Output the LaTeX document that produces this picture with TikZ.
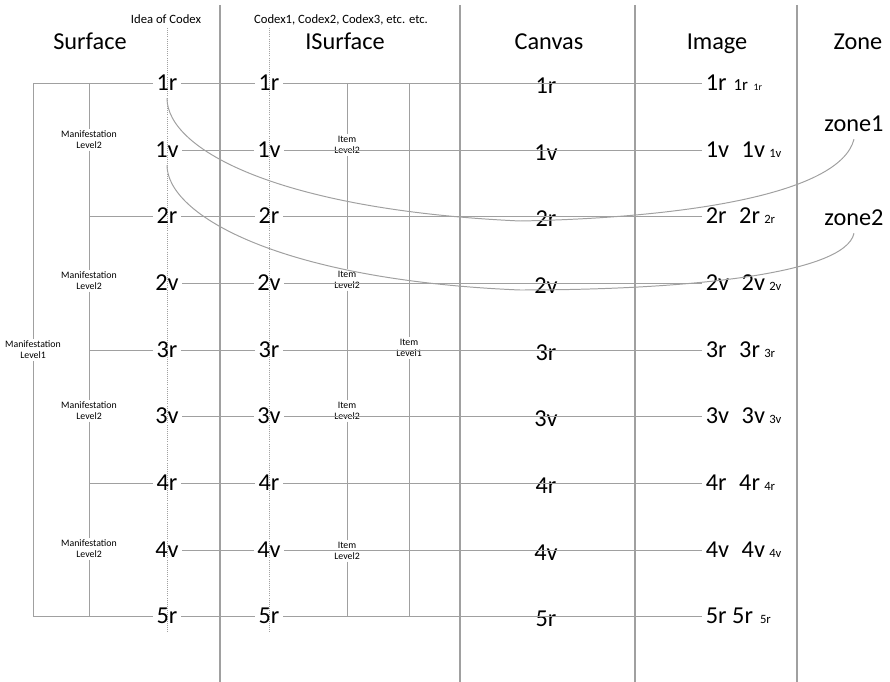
\documentclass[tikz,border=0pt]{standalone}
\usepackage{fontspec}
\setmainfont{Carlito}
\definecolor{lngray}{RGB}{160,160,160}
\begin{document}
\begin{tikzpicture}[
  x=0.025cm, y=-0.025cm,
  every node/.style={align=center},
  ln/.style={draw=lngray, line width=0.7pt},
  colsep/.style={draw=lngray, line width=0.8pt},
  guide/.style={draw=lngray, line width=0.5pt, densely dotted},
  hdr/.style={font=\LARGE, anchor=base},
  sub/.style={font=\small, anchor=base},
  pg/.style={font=\LARGE, inner xsep=2.5pt, inner ysep=5pt},
  lvl/.style={font=\scriptsize, inner sep=1pt},
  zn/.style={font=\LARGE, inner ysep=5pt}
]
\useasboundingbox (0,0) rectangle (890,682);

% Spalten und Leitlinien
\draw[colsep] (220,5) -- (220,682);
\draw[colsep] (460,5) -- (460,682);
\draw[colsep] (635,5) -- (635,682);
\draw[colsep] (797,5) -- (797,682);
\draw[guide] (167,28) -- (167,633);
\draw[guide] (269,28) -- (269,633);

% Kopfzeilen
\node[sub] (idea) at (166,24) {Idea of Codex};
\node[sub] (codices) at (341,24) {Codex1, Codex2, Codex3, etc. etc.};
\node[hdr] (hsurf) at (90,50) {Surface};
\node[hdr] (hisurf) at (345,50) {ISurface};
\node[hdr] (hcanvas) at (549,50) {Canvas};
\node[hdr] (himage) at (717,50) {Image};
\node[hdr] (hzone) at (858,50) {Zone};

% Surface
\node[pg] (s1r) at (167,83) {1r};
\node[pg] (s1v) at (167,150) {1v};
\node[pg] (s2r) at (167,216) {2r};
\node[pg] (s2v) at (167,283) {2v};
\node[pg] (s3r) at (167,350) {3r};
\node[pg] (s3v) at (167,416) {3v};
\node[pg] (s4r) at (167,483) {4r};
\node[pg] (s4v) at (167,550) {4v};
\node[pg] (s5r) at (167,616) {5r};

% ISurface
\node[pg] (i1r) at (269,83) {1r};
\node[pg] (i1v) at (269,150) {1v};
\node[pg] (i2r) at (269,216) {2r};
\node[pg] (i2v) at (269,283) {2v};
\node[pg] (i3r) at (269,350) {3r};
\node[pg] (i3v) at (269,416) {3v};
\node[pg] (i4r) at (269,483) {4r};
\node[pg] (i4v) at (269,550) {4v};
\node[pg] (i5r) at (269,616) {5r};

% Canvas
\node[pg] (c1r) at (546,86) {1r};
\node[pg] (c1v) at (546,153) {1v};
\node[pg] (c2r) at (546,219) {2r};
\node[pg] (c2v) at (546,286) {2v};
\node[pg] (c3r) at (546,353) {3r};
\node[pg] (c3v) at (546,419) {3v};
\node[pg] (c4r) at (546,486) {4r};
\node[pg] (c4v) at (546,553) {4v};
\node[pg] (c5r) at (546,619) {5r};

% Image
\node[pg, anchor=west] (g1r) at (702,83) {1r\hspace{5pt}{\large 1r}\hspace{4pt}{\scriptsize 1r}};
\node[pg, anchor=west] (g1v) at (702,150) {1v\hspace{9pt}1v\hspace{3pt}{\small 1v}};
\node[pg, anchor=west] (g2r) at (702,216) {2r\hspace{9pt}2r\hspace{3pt}{\small 2r}};
\node[pg, anchor=west] (g2v) at (702,283) {2v\hspace{9pt}2v\hspace{3pt}{\small 2v}};
\node[pg, anchor=west] (g3r) at (702,350) {3r\hspace{9pt}3r\hspace{3pt}{\small 3r}};
\node[pg, anchor=west] (g3v) at (702,416) {3v\hspace{9pt}3v\hspace{3pt}{\small 3v}};
\node[pg, anchor=west] (g4r) at (702,483) {4r\hspace{9pt}4r\hspace{3pt}{\small 4r}};
\node[pg, anchor=west] (g4v) at (702,550) {4v\hspace{9pt}4v\hspace{3pt}{\small 4v}};
\node[pg, anchor=west] (g5r) at (702,616) {5r\hspace{4pt}5r\hspace{5pt}{\small 5r}};

% Zone
\node[zn] (z1) at (854,124) {zone1};
\node[zn] (z2) at (854,218) {zone2};

% Ebenen
\node[lvl] (ml1) at (33,350) {Manifestation\\Level1};
\node[lvl] (ma1) at (89,140) {Manifestation\\Level2};
\node[lvl] (ma2) at (89,281) {Manifestation\\Level2};
\node[lvl] (ma3) at (89,411) {Manifestation\\Level2};
\node[lvl] (ma4) at (89,549) {Manifestation\\Level2};
\node[lvl] (it1) at (347,145) {Item\\Level2};
\node[lvl] (it2) at (347,280) {Item\\Level2};
\node[lvl] (it3) at (347,411) {Item\\Level2};
\node[lvl] (it4) at (347,551) {Item\\Level2};
\node[lvl] (il1) at (409,348) {Item\\Level1};

% Surface -> ISurface -> Image
\draw[ln] (s1r) -- (i1r) (s1v) -- (i1v) (s2r) -- (i2r) (s2v) -- (i2v) (s3r) -- (i3r)
  (s3v) -- (i3v) (s4r) -- (i4r) (s4v) -- (i4v) (s5r) -- (i5r);
\draw[ln] (i1r) -- (g1r.west) (i1v) -- (g1v.west) (i2r) -- (g2r.west) (i2v) -- (g2v.west)
  (i3r) -- (g3r.west) (i3v) -- (g3v.west) (i4r) -- (g4r.west) (i4v) -- (g4v.west) (i5r) -- (g5r.west);

% Klammern Manifestation
\draw[ln] (s1r.west) -| (ml1.north);
\draw[ln] (s5r.west) -| (ml1.south);
\draw[ln] (s1r.west -| ma1) -- (ma1.north) (ma1.south) -- (ma2.north) (ma2.south) -- (ma3.north)
  (ma3.south) -- (ma4.north) (ma4.south) -- (s5r.west -| ma4);
\draw[ln] (s2r) -- (s2r -| ma1) (s3r) -- (s3r -| ma1) (s4r) -- (s4r -| ma1);

% Klammern Item
\draw[ln] (i1r.east) -| (il1.north);
\draw[ln] (i5r.east) -| (il1.south);
\draw[ln] (i1r.east -| it1) -- (it1.north) (it1.south) -- (it2.north) (it2.south) -- (it3.north)
  (it3.south) -- (it4.north) (it4.south) -- (i5r.east -| it4);
\draw[ln] (i2r) -- (i2r -| it1) (i3r) -- (i3r -| it1) (i4r) -- (i4r -| it1);

% Zonen
\draw[ln] (s1r.south) .. controls (167,150) and (280,210) .. (520,221)
  .. controls (680,218) and (840,195) .. (z1.south);
\draw[ln] (s1v.south) .. controls (167,215) and (280,280) .. (520,290)
  .. controls (680,290) and (845,275) .. (z2.south);
\end{tikzpicture}
\end{document}
